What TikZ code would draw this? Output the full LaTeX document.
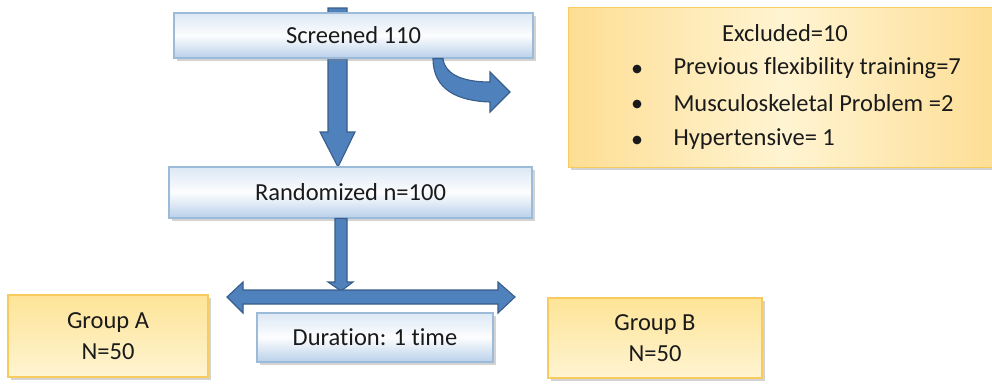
\documentclass[tikz,border=0pt]{standalone}
\usepackage{fontspec}
\setmainfont{Carlito}[RawFeature={-liga;-dlig}]
\usetikzlibrary{shadows,calc}
\definecolor{arrfill}{HTML}{4F81BD}
\definecolor{arrline}{HTML}{385D8A}
\definecolor{bluetop}{HTML}{DCE8F5}
\definecolor{bluebot}{HTML}{B9D0EA}
\definecolor{blueline}{HTML}{9BBBD9}
\definecolor{yeltop}{HTML}{FDE497}
\definecolor{yelbot}{HTML}{FFF4D2}
\definecolor{yelline}{HTML}{F8CB5E}
\definecolor{txt}{HTML}{1A1A1A}
\begin{document}
\begin{tikzpicture}[x=1pt,y=-1pt,
  font=\fontsize{24.5}{30}\selectfont, text=txt,
  bluebox/.style={draw=blueline, line width=1.2pt, rectangle, inner sep=0pt,
    top color=bluetop, bottom color=bluebot, middle color=white!92!bluetop,
    drop shadow={opacity=0.35, shadow xshift=2.5pt, shadow yshift=-2.5pt}},
  yelbox/.style={draw=yelline, line width=1.2pt, rectangle, inner sep=0pt, align=center,
    top color=yeltop, bottom color=yelbot,
    drop shadow={opacity=0.35, shadow xshift=2.5pt, shadow yshift=-2.5pt}},
  arrow/.style={fill=arrfill, draw=arrline, line width=1.1pt, line join=miter}]
\useasboundingbox (0,0) rectangle (992,383);

% excluded box
\node[draw=yelline, line width=1.2pt, rectangle, inner sep=0pt,
  shading angle=35, left color=yeltop!90!orange!90, right color=yeltop!90!orange!90, middle color=yelbot,
  drop shadow={opacity=0.35, shadow xshift=2.5pt, shadow yshift=-2.5pt},
  minimum width=430pt, minimum height=160pt, anchor=north west] (excl) at (568,7) {};
\node (exclt) at (785,33) {Excluded=10};
\node[anchor=west] (ex1) at (670,68) {Previous flexibility training=7};
\node[anchor=west] (ex2) at (670,103) {Musculoskeletal Problem =2};
\node[anchor=west] (ex3) at (670,139) {Hypertensive= 1};
\foreach \n in {ex1,ex2,ex3}{\fill[txt] (637,0 |- \n.west) ++(0,1) circle (4.4pt);}

% vertical arrow 1 (behind screened box)
\coordinate (a1top) at (337.5,8);
\coordinate (a1tip) at (338,167);
\draw[arrow] (a1top) ++(-9.5,0) -- ++(0,124) -- (320,132) -- (a1tip) -- (355,132) -- (347,132) -- (347,8) -- cycle;

% screened box
\node[bluebox, minimum width=359pt, minimum height=45pt] (scr) at (353.5,35.5) {};
\node (scrt) at (scr) {Screened 110};

% curved arrow
\draw[arrow] (433,58.5) .. controls (433,90) and (458,101) .. (490,102)
  -- (490,112) -- (510,92) -- (490,72) -- (490,82)
  .. controls (466,82) and (445,76) .. (443,58.5) -- cycle;

% randomized
\node[bluebox, minimum width=363pt, minimum height=51pt] (rand) at (350.5,192.5) {Randomized n=100};

% vertical arrow 2
\draw[arrow] (335,218.5) -- (335,282) -- (328,282) -- (341,291) -- (353,282) -- (347,282) -- (347,218.5) -- cycle;

% horizontal double arrow
\coordinate (hl) at (227,297);
\coordinate (hr) at (515,297);
\draw[arrow] (hl) -- (243,282) -- (243,290) -- (498,290) -- (498,282) -- (hr) -- (498,313) -- (498,304) -- (243,304) -- (243,313) -- cycle;

% duration
\node[bluebox, minimum width=236pt, minimum height=49pt] (dur) at (375,337.5) {Duration: 1 time};

% groups
\node[yelbox, minimum width=200pt, minimum height=82pt] (ga) at (108,336) {Group A\\[1pt]N=50};
\node[yelbox, minimum width=214pt, minimum height=80pt] (gb) at (655,338) {Group B\\[1pt]N=50};
\end{tikzpicture}
\end{document}
